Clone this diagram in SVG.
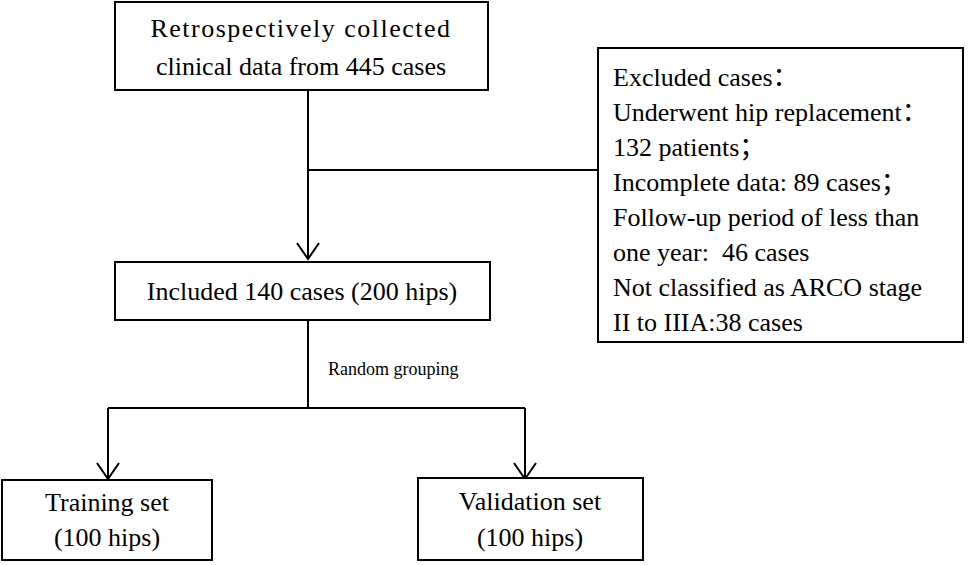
<svg xmlns="http://www.w3.org/2000/svg" width="969" height="565" viewBox="0 0 969 565">
<defs>
<style>
.b{fill:#fff;stroke:#000;stroke-width:2}
.t{font-family:"Liberation Serif","Noto Sans CJK SC",serif;font-size:26px;fill:#000}
.l{stroke:#000;stroke-width:2;fill:none}
</style>
</defs>
<rect width="969" height="565" fill="#fff"/>
<g id="connectors">
<path class="l" d="M308 90V258M308 170H598M308 320V408M108 408H525M108 408V478M525 408V478"/>
<path class="l" d="M297 243L308 259L319 243M97 463L108 479L119 463M514 463L525 479L536 463"/>
<text x="328" y="375" style="font-family:'Liberation Serif',serif;font-size:18px">Random grouping</text>
</g>
<g id="n1"><rect class="b" x="115" y="2" width="373" height="88"/>
<text class="t" x="301" y="37" text-anchor="middle" letter-spacing="1.5">Retrospectively collected</text>
<text class="t" x="301" y="75" text-anchor="middle">clinical data from 445 cases</text></g>
<g id="n2"><rect class="b" x="598" y="48" width="365" height="294"/>
<text class="t" x="613"><tspan x="613" y="86">Excluded cases：</tspan><tspan x="613" y="121">Underwent hip replacement：</tspan><tspan x="613" y="156">132 patients；</tspan><tspan x="613" y="191">Incomplete data: 89 cases；</tspan><tspan x="613" y="226">Follow-up period of less than</tspan><tspan x="613" y="261">one year:&#160; 46 cases</tspan><tspan x="613" y="296">Not classified as ARCO stage</tspan><tspan x="613" y="331">II to IIIA:38 cases</tspan></text></g>
<g id="n3"><rect class="b" x="115" y="262" width="375" height="58"/>
<text class="t" x="302" y="300" text-anchor="middle">Included 140 cases (200 hips)</text></g>
<g id="n4"><rect class="b" x="2" y="480" width="210" height="80"/>
<text class="t" x="107" y="511" text-anchor="middle">Training set</text>
<text class="t" x="107" y="546" text-anchor="middle">(100 hips)</text></g>
<g id="n5"><rect class="b" x="418" y="478" width="225" height="82"/>
<text class="t" x="530" y="510" text-anchor="middle">Validation set</text>
<text class="t" x="530" y="546" text-anchor="middle">(100 hips)</text></g>
</svg>
